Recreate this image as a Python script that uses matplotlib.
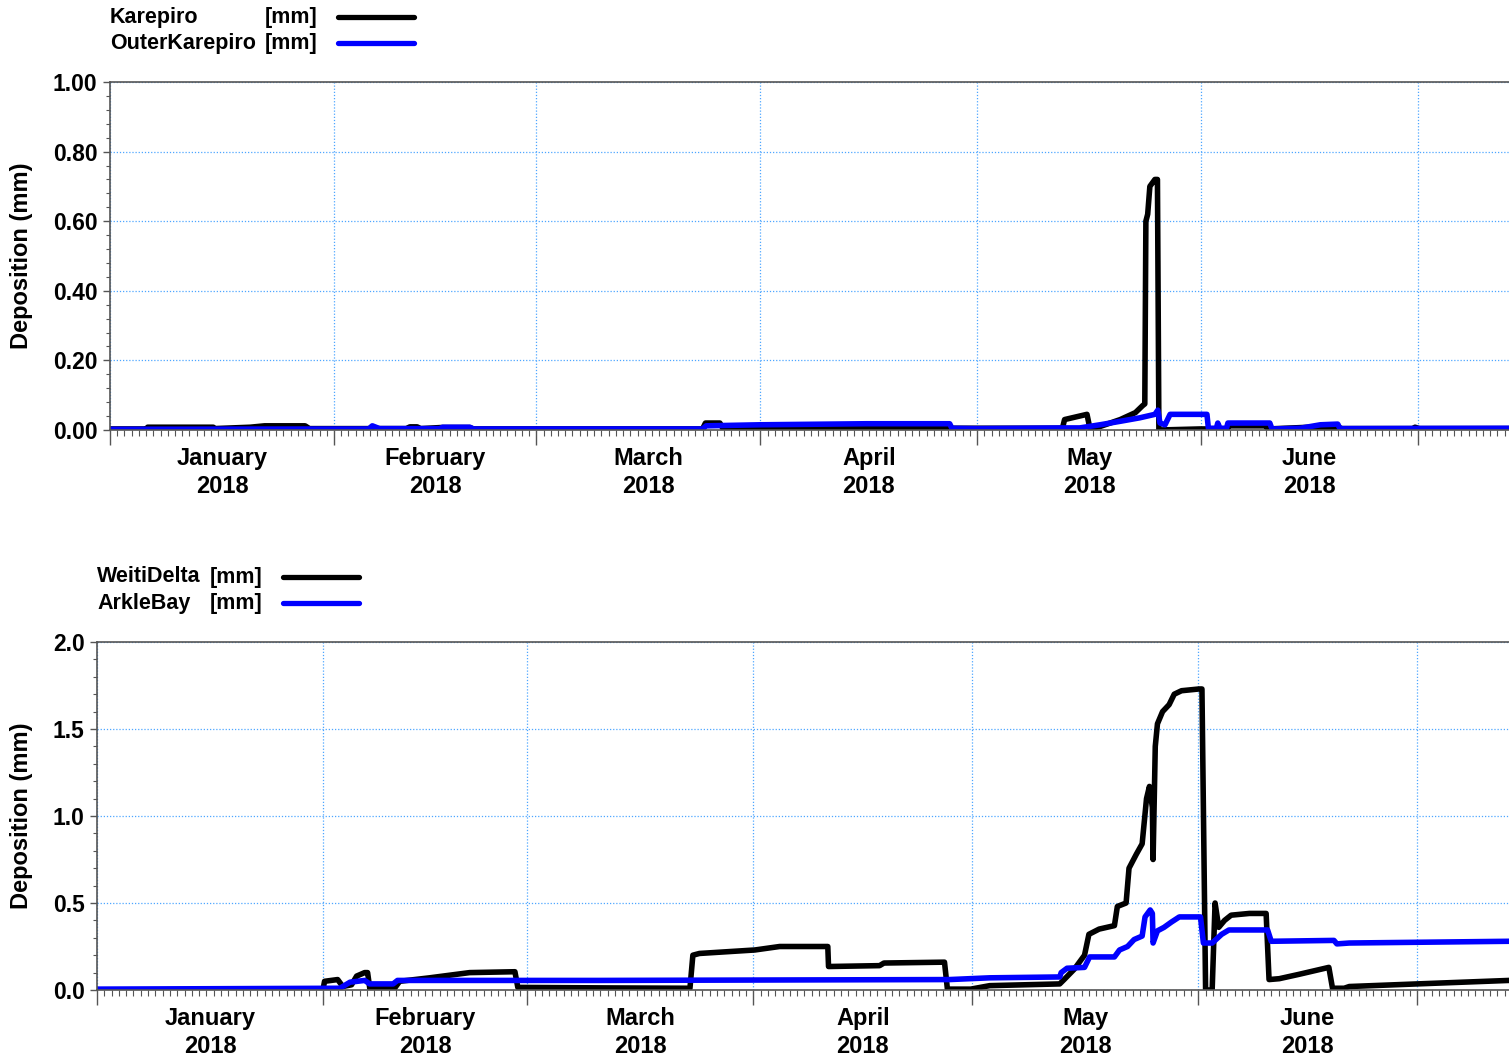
import matplotlib
matplotlib.use('Agg')
import matplotlib.pyplot as plt
import matplotlib.dates as mdates
import matplotlib.transforms as mtransforms
from matplotlib.lines import Line2D
from matplotlib.ticker import MultipleLocator, FormatStrFormatter, NullFormatter
import pandas as pd

plt.rcParams['font.family'] = ['Liberation Sans', 'DejaVu Sans']
plt.rcParams['font.weight'] = 'bold'

T0 = pd.Timestamp('2018-01-01')

#%% Datos (dias desde 1 ene 2018, deposicion en mm)
karepiro_dia = [0, 5.1, 5.2, 14.3, 14.4, 19.4, 21.4, 27.0, 27.6, 41.0, 41.5, 42.5, 43, 45.7, 49.8, 50.3,
                82.0, 82.4, 84.4, 84.8, 131.8, 132.1, 135.2, 135.6, 137.0, 139.8, 141.9, 142.9,
                143.2, 143.35, 143.6, 143.9, 144.6, 144.95, 145.15, 150.8, 154.5, 155.0, 159.8, 160.3,
                166.0, 170.0, 170.5, 180.3, 180.6, 181.2, 193.6]
karepiro_mm = [0.003, 0.003, 0.008, 0.008, 0.004, 0.008, 0.012, 0.012, 0.004, 0.004, 0.009, 0.009, 0.004, 0.007, 0.007, 0.003,
               0.003, 0.02, 0.02, 0.005, 0.005, 0.03, 0.045, 0.005, 0.01, 0.03, 0.05, 0.07,
               0.075, 0.60, 0.62, 0.70, 0.72, 0.72, 0.0, 0.003, 0.003, 0.012, 0.012, 0.003,
               0.008, 0.008, 0.004, 0.004, 0.008, 0.004, 0.004]

outer_dia = [0, 35.8, 36.3, 37.3, 45.7, 46.0, 49.8, 50.3, 82.0, 82.5, 90.0, 104.7, 116.2, 116.5,
             120.0, 132.0, 134.2, 137.0, 139.8, 142.5, 144.6, 145.0, 145.3, 146.0, 146.7, 151.8,
             152.0, 153.1, 153.3, 153.6, 154.5, 154.7, 160.5, 160.8, 164.7, 167.5, 169.9, 170.2, 193.6]
outer_mm = [0.002, 0.003, 0.012, 0.004, 0.004, 0.008, 0.008, 0.003, 0.003, 0.012, 0.015, 0.018, 0.018, 0.005,
            0.004, 0.006, 0.006, 0.015, 0.025, 0.035, 0.045, 0.057, 0.02, 0.015, 0.045, 0.045,
            0.005, 0.005, 0.02, 0.005, 0.005, 0.02, 0.02, 0.003, 0.005, 0.015, 0.017, 0.004, 0.005]

weiti_dia = [0, 31.0, 31.2, 33.0, 33.7, 34.9, 35.6, 36.7, 37.1, 37.4, 40.8, 41.5, 45.6, 51.1, 57.3, 57.7,
             70.0, 81.3, 81.7, 82.6, 90.2, 93.6, 100.2, 100.3, 107.3, 107.9, 116.2, 116.6,
             119.8, 122.4, 132.0, 132.6, 134.0, 135.4, 136.0, 137.4, 139.5, 139.9, 141.1, 141.5,
             142.5, 143.3, 143.9, 144.3, 144.7, 144.8, 145.1, 145.4, 146.1, 147.0, 147.7, 148.7,
             151.1, 151.5, 152.0, 152.9, 153.3, 153.8, 154.6, 155.5, 158.0, 160.3, 160.7, 162.1,
             164.8, 168.9, 169.4, 171.0, 171.7, 181.0, 193.6]
weiti_mm = [0.0, 0.005, 0.05, 0.06, 0.02, 0.03, 0.08, 0.1, 0.1, 0.01, 0.01, 0.05, 0.07, 0.1, 0.105, 0.015,
            0.012, 0.01, 0.2, 0.21, 0.23, 0.25, 0.25, 0.135, 0.14, 0.155, 0.16, 0.005,
            0.005, 0.025, 0.035, 0.06, 0.12, 0.2, 0.32, 0.35, 0.37, 0.48, 0.5, 0.7,
            0.78, 0.84, 1.1, 1.17, 1.05, 0.75, 1.4, 1.53, 1.6, 1.64, 1.7, 1.72,
            1.73, 1.73, 0.0, 0.0, 0.5, 0.36, 0.4, 0.43, 0.44, 0.44, 0.06, 0.065,
            0.09, 0.13, 0.01, 0.01, 0.02, 0.035, 0.055]

arkle_dia = [0, 33.3, 34.7, 36.7, 37.4, 40.6, 41.2, 68.9, 116.9, 122.4, 132.0, 132.2, 133.0, 135.4,
             136.1, 139.5, 140.2, 141.3, 142.2, 143.3, 143.7, 144.4, 144.7, 144.8, 145.4, 146.3,
             147.3, 148.4, 151.3, 151.7, 152.9, 154.2, 155.2, 160.5, 161.0, 169.6, 170.0, 171.7, 193.6]
arkle_mm = [0.005, 0.01, 0.045, 0.055, 0.035, 0.035, 0.055, 0.055, 0.06, 0.07, 0.075, 0.1, 0.125, 0.13,
            0.19, 0.19, 0.23, 0.25, 0.29, 0.31, 0.42, 0.46, 0.44, 0.27, 0.34, 0.36,
            0.39, 0.42, 0.42, 0.27, 0.27, 0.32, 0.345, 0.345, 0.28, 0.285, 0.265, 0.27, 0.28]

meses = ['January', 'February', 'March', 'April', 'May', 'June']
dias_fin = 193.6

W, H = 1509, 1057
AZUL = '#0000ff'
GRILLA = '#4da6ff'
EJE = '#555555'


def fechas(dias):
    return T0 + pd.to_timedelta(dias, unit='D')


def armar_eje(ax, ymax, ymayor, ymenor, fmt, alto_px):
    ax.set_xlim(T0, fechas([dias_fin])[0])
    ax.set_ylim(0, ymax)
    for lado in ['left', 'bottom', 'top']:
        ax.spines[lado].set_color(EJE)
        ax.spines[lado].set_linewidth(1.2)
    ax.spines['right'].set_visible(False)

    ax.xaxis.set_major_locator(mdates.MonthLocator())
    ax.xaxis.set_major_formatter(NullFormatter())
    ax.xaxis.set_minor_locator(mdates.DayLocator())
    ax.tick_params(axis='x', which='major', length=11, width=1, color=EJE, direction='out')
    ax.tick_params(axis='x', which='minor', length=4, width=0.8, color=EJE, direction='out')

    ax.yaxis.set_major_locator(MultipleLocator(ymayor))
    ax.yaxis.set_minor_locator(MultipleLocator(ymenor))
    ax.yaxis.set_major_formatter(FormatStrFormatter(fmt))
    ax.tick_params(axis='y', which='major', length=5, width=1, color=EJE, labelsize=16.5, pad=4)
    ax.tick_params(axis='y', which='minor', length=3, width=0.8, color=EJE)
    for t in ax.get_yticklabels():
        t.set_fontweight('bold')

    ax.grid(True, which='major', color=GRILLA, linestyle=(0, (1, 1.5)), linewidth=0.9)
    ax.set_axisbelow(True)

    ax.set_ylabel('Deposition (mm)', fontsize=17, fontweight='bold')

    # etiquetas de mes centradas entre los cortes
    trans = mtransforms.blended_transform_factory(ax.transData, ax.transAxes)
    inicios = pd.date_range('2018-01-01', periods=7, freq='MS')
    for i, mes in enumerate(meses):
        centro = inicios[i] + (inicios[i + 1] - inicios[i]) / 2
        ax.text(mdates.date2num(centro), -17 / alto_px, f'{mes}\n2018', transform=trans,
                ha='center', va='top', fontsize=17, fontweight='bold', linespacing=1.3)


def leyenda(fig, x_txt, x_mm, x_l0, x_l1, y_px, nombres, colores):
    for k, (nom, col) in enumerate(zip(nombres, colores)):
        y = 1 - (y_px + 26 * k) / H
        fig.text(x_txt / W, y, nom, ha='left', va='center', fontsize=15.5, fontweight='bold')
        fig.text(x_mm / W, y, '[mm]', ha='left', va='center', fontsize=15.5, fontweight='bold')
        fig.add_artist(Line2D([x_l0 / W, x_l1 / W], [y, y], color=col, lw=3.8,
                              solid_capstyle='round', transform=fig.transFigure))


#%% Figura
fig = plt.figure(figsize=(W / 100, H / 100), dpi=100)

ax1 = fig.add_axes([110 / W, 1 - 430 / H, 1 - 110 / W, 348 / H])
ax2 = fig.add_axes([97 / W, 1 - 990 / H, 1 - 97 / W, 348 / H])

ax1.plot(fechas(karepiro_dia), karepiro_mm, color='black', lw=4, solid_joinstyle='round')
ax1.plot(fechas(outer_dia), outer_mm, color=AZUL, lw=4, solid_joinstyle='round')
armar_eje(ax1, 1.0, 0.2, 0.04, '%.2f', 348)
ax1.yaxis.set_label_coords((33 - 110) / (W - 110), 0.5)

ax2.plot(fechas(weiti_dia), weiti_mm, color='black', lw=4, solid_joinstyle='round')
ax2.plot(fechas(arkle_dia), arkle_mm, color=AZUL, lw=4, solid_joinstyle='round')
armar_eje(ax2, 2.0, 0.5, 0.1, '%.1f', 348)
ax2.yaxis.set_label_coords((33 - 97) / (W - 97), 0.5)

leyenda(fig, 110, 265, 338, 414, 17, ['Karepiro', 'OuterKarepiro'], ['black', AZUL])
leyenda(fig, 97, 210, 283, 359, 577, ['WeitiDelta', 'ArkleBay'], ['black', AZUL])

fig.savefig('out.png', dpi=100)
